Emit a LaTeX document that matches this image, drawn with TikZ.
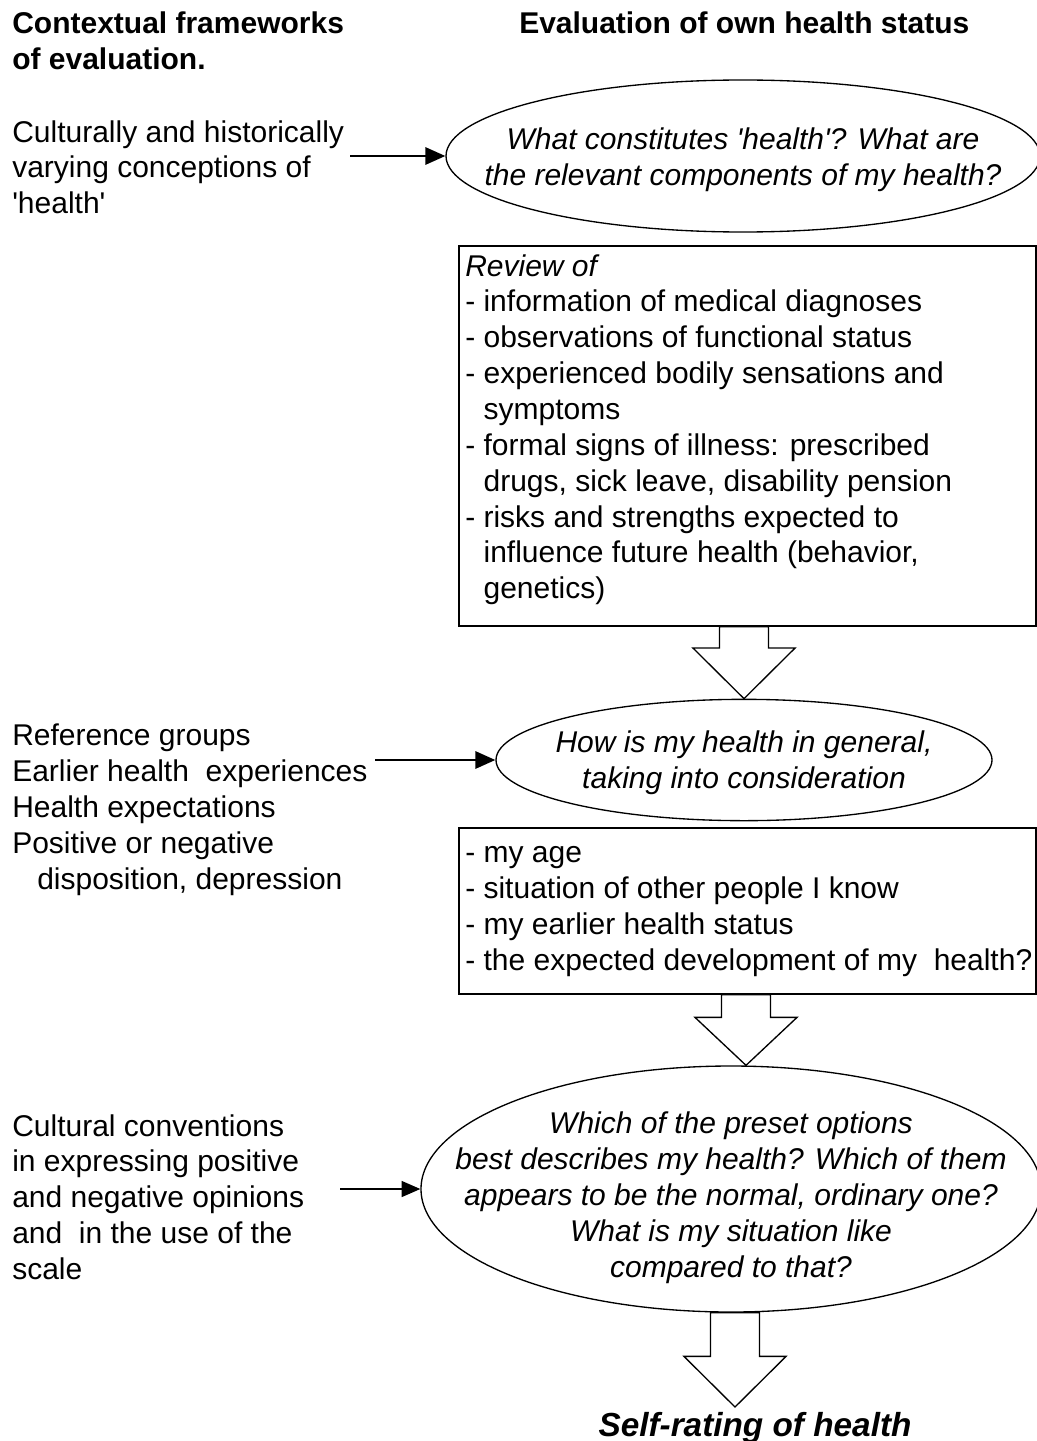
\documentclass[tikz,border=0pt]{standalone}
\usepackage{fontspec}
\setmainfont{Liberation Sans}
\usetikzlibrary{arrows.meta,calc,shapes.geometric}
\newcommand{\sq}{\textquotesingle}
% hollow block arrow: #1 start of shaft, #2 tip, #3 head length
\newcommand{\hollowarrow}[3]{%
  \draw[line width=1pt,fill=white] let \p1=(#1), \p2=(#2) in
    (\x2-18.4pt,\y1) -- (\x2+18.4pt,\y1) -- (\x2+18.4pt,\y2+#3) -- (\x2+38.3pt,\y2+#3)
    -- (\x2,\y2) -- (\x2-38.3pt,\y2+#3) -- (\x2-18.4pt,\y2+#3) -- cycle;}

\begin{document}
\begin{tikzpicture}[x=0.75pt,y=-0.75pt,
    every node/.style={inner sep=0pt,font=\fontsize{22.5}{26.9}\selectfont},
    ctx/.style={anchor=north west,align=left},
    heading/.style={anchor=north west,align=left,font=\fontsize{22.5}{27.6}\selectfont\bfseries},
    question/.style={draw,ellipse,line width=1pt},
    qtext/.style={align=center,font=\fontsize{22.5}{26.9}\selectfont\itshape},
    listbox/.style={draw,line width=1.2pt,anchor=north west},
    feed/.style={-{Triangle[length=15pt,width=13pt]},line width=1.6pt}]
  \useasboundingbox (0,0) rectangle (1037,1441);
  % headings
  \node[heading] (hctx) at (12,11) {Contextual frameworks\\of evaluation.};
  \node[heading,align=left] (hown) at (519,11) {Evaluation of own health status};
  % first stage
  \node[ctx] (ctx1) at (12,120) {Culturally and historically\\varying conceptions of\\\sq health\sq};
  \node[question,minimum width=445.5pt,minimum height=114pt] (q1) at (743,156) {};
  \node[qtext] (q1text) at (743,159.5)
    {What constitutes \sq health\sq? What are\\the relevant components of my health?};
  \coordinate (s1) at (350,156);
  \draw[feed] (s1) -- (q1.west);
  \node[listbox,minimum width=432.75pt,minimum height=285pt] (rev) at (458,245) {};
  \node[ctx] (revtext) at (465,254) {\itshape Review of\\
    - information of medical diagnoses\\
    - observations of functional status\\
    - experienced bodily sensations and\\
    \hphantom{- }symptoms\\
    - formal signs of illness: prescribed\\
    \hphantom{- }drugs, sick leave, disability pension\\
    - risks and strengths expected to\\
    \hphantom{- }influence future health (behavior,\\
    \hphantom{- }genetics)};
  % second stage
  \node[question,minimum width=372pt,minimum height=91pt] (q2) at (744,760) {};
  \node[qtext] (q2text) at (744,762.5) {How is my health in general,\\taking into consideration};
  \hollowarrow{rev.south}{q2.north}{38pt}
  \node[ctx] (ctx2) at (12,724) {Reference groups\\
    Earlier health\ \ experiences\\
    Health expectations\\
    Positive or negative\\
    \hspace{18.75pt}disposition, depression};
  \coordinate (s2) at (375,760);
  \draw[feed] (s2) -- (q2.west);
  \node[listbox,minimum width=432.75pt,minimum height=124.5pt] (cmp) at (458,827) {};
  \node[ctx] (cmptext) at (465,846) {- my age\\
    - situation of other people I know\\
    - my earlier health status\\
    - the expected development of my\ \ health?};
  % third stage
  \node[question,minimum width=465pt,minimum height=184.5pt] (q3) at (731,1189) {};
  \node[qtext] (q3text) at (731,1197.5)
    {Which of the preset options\\best describes my health? Which of them\\appears to be the normal, ordinary one?\\What is my situation like\\compared to that?};
  \coordinate (t2) at ($(q3.north)+(15,0)$);
  \hollowarrow{cmp.south}{t2}{36pt}
  \node[ctx] (ctx3) at (12,1114) {Cultural conventions\\
    in expressing positive\\
    and negative opinions\\
    and\ \ in the use of the\\
    scale};
  \coordinate (s3) at (340,1189);
  \draw[-{Triangle[length=14pt,width=12pt]},line width=1pt] (s3) -- (q3.west);
  % result
  \node[anchor=base,font=\fontsize{25}{30}\selectfont\bfseries\itshape] (rating) at (755,1436) {Self-rating of health};
  \coordinate (t3) at (735,1407);
  \hollowarrow{q3.south}{t3}{38pt}
\end{tikzpicture}
\end{document}
